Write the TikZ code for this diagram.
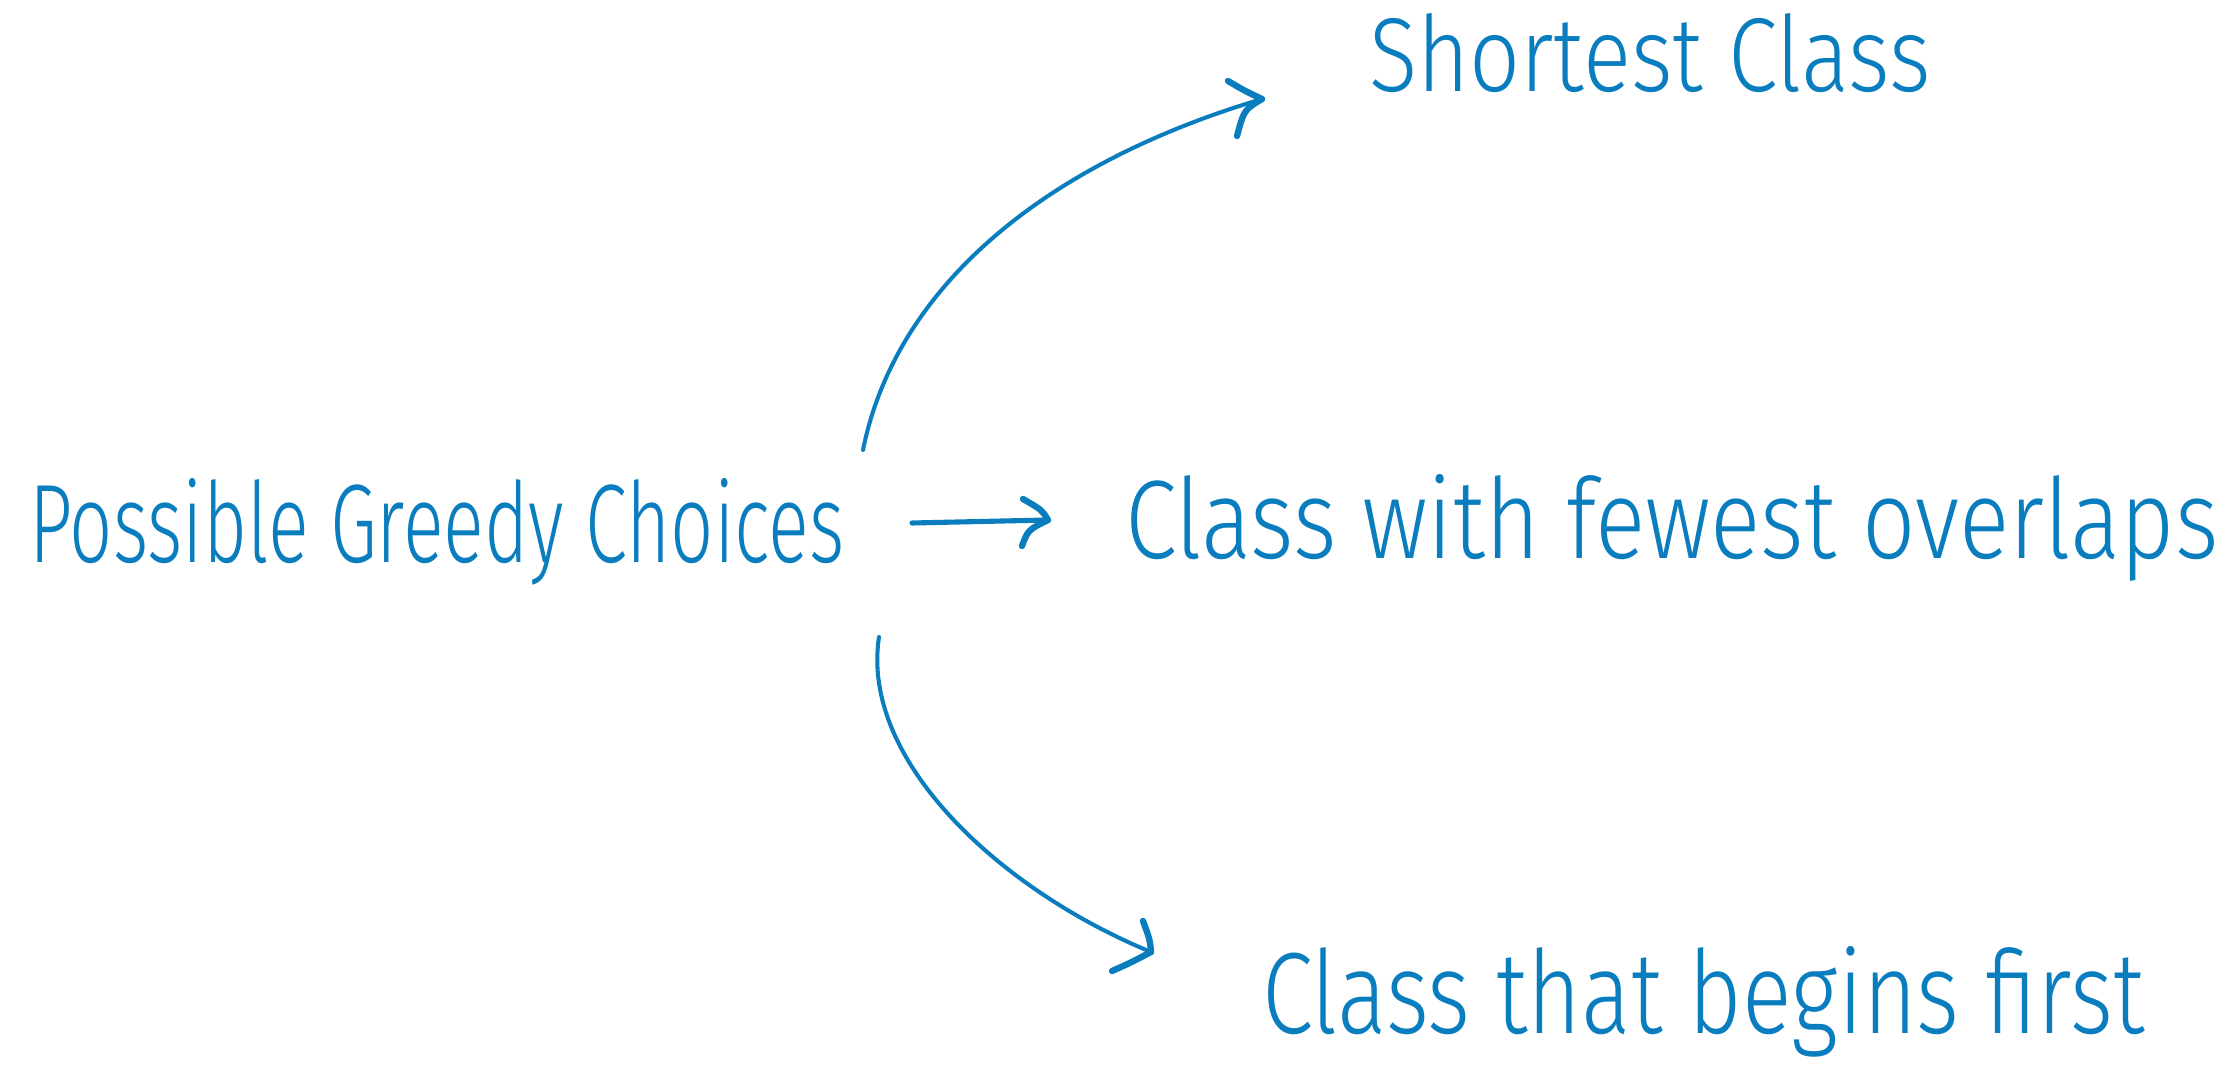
\documentclass[tikz,border=0pt]{standalone}
\usepackage{fontspec}
\setmainfont{Fira Sans}[UprightFont=* Light]
\usepackage{graphicx}
\definecolor{ink}{HTML}{0A7DBF}
\begin{document}
\begin{tikzpicture}[x=0.01cm,y=-0.01cm,
  label/.style={anchor=base west,inner sep=0pt,outer sep=0pt,text=ink},
  curve/.style={draw=ink,line width=1.15pt,line cap=round,line join=round},
  barb/.style={draw=ink,line width=1.8pt,line cap=round,line join=round},
  straight/.style={draw=ink,line width=1.45pt,line cap=round}]
\useasboundingbox[fill=white] (0,0) rectangle (2239,1070);
% texts
\node[label] (src) at (29,562) {\resizebox{8.15cm}{0.84cm}{Possible Greedy Choices}};
\node[label] (short) at (1369,92) {\resizebox{5.61cm}{0.78cm}{Shortest Class}};
\node[label] (fewest) at (1125,558) {\resizebox{10.93cm}{0.84cm}{Class with fewest overlaps}};
\node[label] (begins) at (1262,1033) {\resizebox{8.82cm}{0.87cm}{Class that begins first}};
% connector end points
\coordinate (tstart) at (863,450);
\coordinate (ttip) at (1262,99);
\coordinate (mstart) at (912,523);
\coordinate (mtip) at (1048,520);
\coordinate (bstart) at (879,637);
\coordinate (btip) at (1151,952);
% top connector
\draw[curve] (tstart) .. controls (895,290) and (1040,165) .. (ttip);
\draw[barb] (1228,81) .. controls (1245,91) .. (ttip);
\draw[barb] (ttip) .. controls (1244,110) .. (1237,136);
% middle connector
\draw[straight] (mstart) -- (mtip);
\draw[barb] (1023,499) .. controls (1042,510) .. (mtip);
\draw[barb] (mtip) .. controls (1028,530) .. (1022,546);
% bottom connector
\draw[curve] (bstart) .. controls (860,760) and (1000,890) .. (btip);
\draw[barb] (1143,921) .. controls (1150,940) .. (btip);
\draw[barb] (btip) .. controls (1130,963) .. (1112,971);
\end{tikzpicture}
\end{document}
